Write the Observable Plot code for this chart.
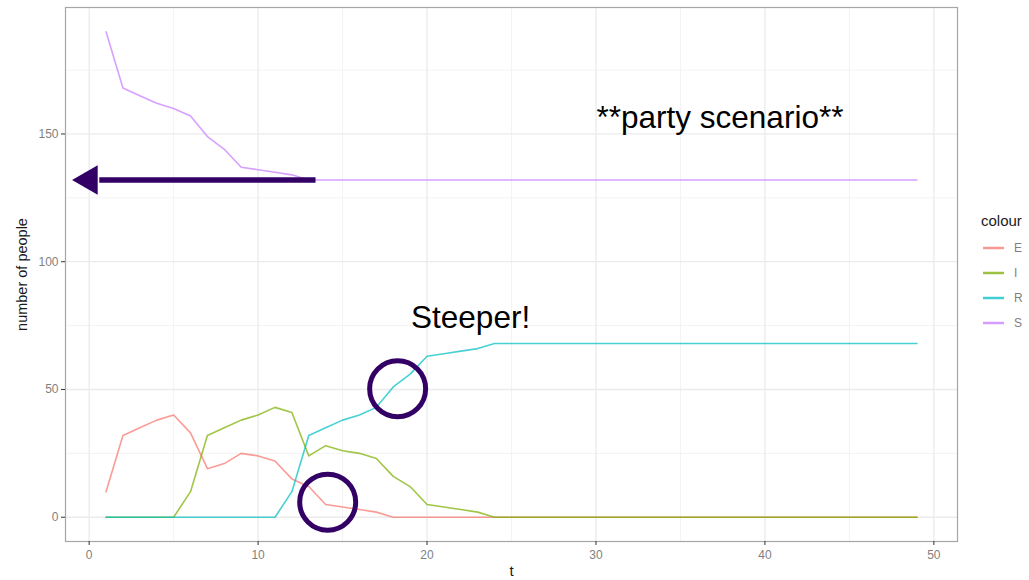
<!DOCTYPE html>
<html>
<head>
<meta charset="utf-8">
<script src="https://cdn.jsdelivr.net/npm/d3@7"></script>
<script src="https://cdn.jsdelivr.net/npm/@observablehq/plot@0.6"></script>
<style>
  html, body { margin: 0; padding: 0; background: #fff; }
  #wrap { position: relative; width: 1029px; height: 580px; font-family: "Liberation Sans", Arial, sans-serif; }
  #legend { position: absolute; left: 960px; top: 200px; }
</style>
</head>
<body>
<div id="wrap"><div id="chart"></div><svg id="legend" width="69" height="140"></svg></div>
<script>
// ---- data ----
const categories = ["E", "I", "R", "S"];
const colours = ["#F8766D", "#7CAE00", "#00BFC4", "#C77CFF"];
const t = [1,2,3,4,5,6,7,8,9,10,11,12,13,14,15,16,17,18,19,20,21,22,23,24,25,26,27,28,29,30,31,32,33,34,35,36,37,38,39,40,41,42,43,44,45,46,47,48,49];
const seriesE = [10,32,35,38,40,33,19,21,25,24,22,15,12,5,4,3,2,0,0,0,0,0,0,0,0,0,0,0,0,0,0,0,0,0,0,0,0,0,0,0,0,0,0,0,0,0,0,0,0];
const seriesI = [0,0,0,0,0,10,32,35,38,40,43,41,24,28,26,25,23,16,12,5,4,3,2,0,0,0,0,0,0,0,0,0,0,0,0,0,0,0,0,0,0,0,0,0,0,0,0,0,0];
const seriesR = [0,0,0,0,0,0,0,0,0,0,0,10,32,35,38,40,43,51,56,63,64,65,66,68,68,68,68,68,68,68,68,68,68,68,68,68,68,68,68,68,68,68,68,68,68,68,68,68,68];
const seriesS = [190,168,165,162,160,157,149,144,137,136,135,134,132,132,132,132,132,132,132,132,132,132,132,132,132,132,132,132,132,132,132,132,132,132,132,132,132,132,132,132,132,132,132,132,132,132,132,132,132];
const xTicks = [0, 10, 20, 30, 40, 50];
const xMinor = [5, 15, 25, 35, 45];
const yTicks = [0, 50, 100, 150];
const yMinor = [25, 75, 125, 175];
const xTitle = "t";
const yTitle = "number of people";
const legendTitle = "colour";
// annotations (in data units)
const noteTexts = [{x: 37.34, y: 152.5, text: "**party scenario**"}, {x: 22.58, y: 74.2, text: "Steeper!"}];
const arrowShaft = [{x1: 0.6, y1: 132, x2: 13.4, y2: 132}];
const arrowHead = [{x: 0, y: 132}];
const circles = [{x: 18.26, y: 50.3}, {x: 14.12, y: 5.9}];

// ---- build long table ----
const seriesAll = {E: seriesE, I: seriesI, R: seriesR, S: seriesS};
const rows = [];
for (const c of categories) seriesAll[c].forEach((v, i) => rows.push({t: t[i], value: v, colour: c}));

const annot = "#330066";
const svg = Plot.plot({
  width: 1029,
  height: 580,
  marginLeft: 65,
  marginRight: 72,
  marginTop: 7,
  marginBottom: 39,
  style: {fontFamily: "'Liberation Sans', Arial, sans-serif", background: "#fff"},
  x: {domain: [-1.4, 51.4]},
  y: {domain: [-9.5, 199.5]},
  color: {domain: categories, range: colours},
  marks: [
    Plot.gridX(xMinor, {stroke: "#f3f3f3", strokeOpacity: 1, strokeWidth: 1}),
    Plot.gridY(yMinor, {stroke: "#f3f3f3", strokeOpacity: 1, strokeWidth: 1}),
    Plot.gridX(xTicks, {stroke: "#ebebeb", strokeOpacity: 1, strokeWidth: 1.3}),
    Plot.gridY(yTicks, {stroke: "#ebebeb", strokeOpacity: 1, strokeWidth: 1.3}),
    Plot.frame({stroke: "#a6a6a6", strokeWidth: 1.2}),
    Plot.line(rows, {x: "t", y: "value", z: "colour", stroke: "colour", strokeWidth: 1.6, strokeOpacity: 0.72}),
    Plot.link(arrowShaft, {x1: "x1", y1: "y1", x2: "x2", y2: "y2", stroke: annot, strokeWidth: 5.5, ariaLabel: "annot-arrow"}),
    Plot.dot(arrowHead, {x: "x", y: "y", symbol: "triangle", r: 11, rotate: -90, fill: annot, stroke: "none", ariaLabel: "annot-arrow"}),
    Plot.dot(circles, {x: "x", y: "y", r: 28, stroke: annot, strokeWidth: 5, fill: "none"}),
    Plot.text(noteTexts, {x: "x", y: "y", text: "text", fontSize: 31.5, fill: "#000", lineAnchor: "bottom", textAnchor: "middle"}),
    Plot.axisX(xTicks, {tickSize: 4, tickPadding: 5, stroke: "#333", fill: "#7f7f7f", fontSize: 12, label: null}),
    Plot.axisY(yTicks, {tickSize: 4, tickPadding: 3, stroke: "#333", fill: "#7f7f7f", fontSize: 12, label: null}),
    Plot.text([xTitle], {frameAnchor: "bottom", dy: 34, text: d => d, fontSize: 15, fill: "#1a1a1a"}),
    Plot.text([yTitle], {frameAnchor: "left", dx: -43, rotate: -90, textAnchor: "middle", text: d => d, fontSize: 14.5, fill: "#1a1a1a"})
  ]
});
document.getElementById("chart").append(svg);
svg.querySelectorAll('g[aria-label="annot-arrow"]').forEach(g => g.style.filter = "drop-shadow(1px 3px 3px rgba(0,0,0,0.35))");

// ---- legend ----
const lg = d3.select("#legend");
lg.append("text").attr("x", 21).attr("y", 26).attr("font-size", 15).attr("fill", "#1a1a1a").attr("font-family", "'Liberation Sans', Arial, sans-serif").text(legendTitle);
categories.forEach((c, i) => {
  const y = 48 + i * 25;
  lg.append("line").attr("x1", 23).attr("x2", 44).attr("y1", y).attr("y2", y).attr("stroke", colours[i]).attr("stroke-width", 2.5).attr("stroke-opacity", 0.75);
  lg.append("text").attr("x", 54).attr("y", y).attr("dy", "0.35em").attr("font-size", 12).attr("fill", "#7f7f7f").attr("font-family", "'Liberation Sans', Arial, sans-serif").text(c);
});
</script>
</body>
</html>
